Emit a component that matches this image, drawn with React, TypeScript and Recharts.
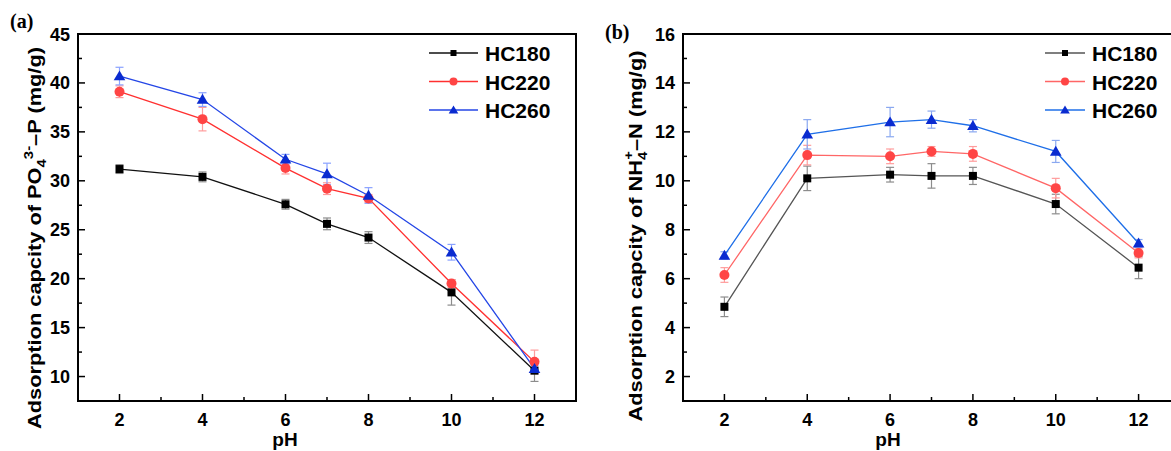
import React from "react";
import { LineChart, Line, XAxis, YAxis, ErrorBar, ReferenceArea } from "recharts";

// pH values shared by both panels
const phValues = [2, 4, 6, 7, 8, 10, 12];

// (a) PO4 3- -P adsorption (mg/g)
const po4HC180 = [31.2, 30.4, 27.6, 25.6, 24.2, 18.6, 10.6];
const po4HC180Err = [0.45, 0.5, 0.5, 0.6, 0.6, 1.3, 1.1];
const po4HC220 = [39.1, 36.3, 31.3, 29.2, 28.2, 19.5, 11.5];
const po4HC220Err = [0.6, 1.2, 0.6, 0.6, 0.4, 0.4, 1.2];
const po4HC260 = [40.7, 38.3, 32.2, 30.7, 28.5, 22.7, 10.8];
const po4HC260Err = [0.9, 0.7, 0.5, 1.1, 0.8, 0.8, 0.3];

// (b) NH4+ -N adsorption (mg/g)
const nh4HC180 = [4.85, 10.1, 10.25, 10.2, 10.2, 9.05, 6.45];
const nh4HC180Err = [0.4, 0.5, 0.3, 0.5, 0.35, 0.4, 0.45];
const nh4HC220 = [6.15, 11.05, 11.0, 11.2, 11.1, 9.7, 7.05];
const nh4HC220Err = [0.3, 0.4, 0.3, 0.2, 0.3, 0.4, 0.2];
const nh4HC260 = [6.95, 11.9, 12.4, 12.5, 12.25, 11.2, 7.45];
const nh4HC260Err = [0.15, 0.6, 0.6, 0.35, 0.25, 0.45, 0.15];

const seriesNames = ["HC180", "HC220", "HC260"];

const xTicks = [2, 3, 4, 5, 6, 7, 8, 9, 10, 11, 12];
const leftYTicks = [10, 12.5, 15, 17.5, 20, 22.5, 25, 27.5, 30, 32.5, 35, 37.5, 40, 42.5, 45];
const rightYTicks = [2, 3, 4, 5, 6, 7, 8, 9, 10, 11, 12, 13, 14, 15, 16];

const buildRows = (a: number[], ae: number[], b: number[], be: number[], c: number[], ce: number[]) =>
  phValues.map((ph, i) => ({ ph, s1: a[i], e1: ae[i], s2: b[i], e2: be[i], s3: c[i], e3: ce[i] }));

const po4Rows = buildRows(po4HC180, po4HC180Err, po4HC220, po4HC220Err, po4HC260, po4HC260Err);
const nh4Rows = buildRows(nh4HC180, nh4HC180Err, nh4HC220, nh4HC220Err, nh4HC260, nh4HC260Err);

const FONT = "'Liberation Sans', Arial, sans-serif";
const SERIF = "'Liberation Serif', 'Times New Roman', serif";

type Shape = "square" | "circle" | "triangle";

const Marker = ({ cx, cy, shape, fill, size }: { cx: number; cy: number; shape: Shape; fill: string; size: number }) => {
  if (shape === "square") {
    return <rect x={cx - size / 2} y={cy - size / 2} width={size} height={size} fill={fill} />;
  }
  if (shape === "circle") {
    return <circle cx={cx} cy={cy} r={size / 2 + 0.5} fill={fill} />;
  }
  const h = size * 0.95;
  return (
    <polygon
      points={`${cx},${cy - h * 0.6} ${cx - size / 2 - 0.8},${cy + h * 0.45} ${cx + size / 2 + 0.8},${cy + h * 0.45}`}
      fill={fill}
    />
  );
};

const makeDot = (shape: Shape, fill: string, size: number) => (p: any) => {
  if (p.cx == null || p.cy == null) return <g key={p.index} />;
  return <Marker key={p.index} cx={p.cx} cy={p.cy} shape={shape} fill={fill} size={size} />;
};

// ticks point inward, labels only on major ones
const makeXTick = () => (props: any) => {
  const { x, y, payload } = props;
  const v = payload.value;
  const major = v % 2 === 0;
  return (
    <g>
      <line x1={x} x2={x} y1={y} y2={y - (major ? 7 : 4)} stroke="#000" strokeWidth={1.5} />
      {major && (
        <text x={x} y={y + 25} textAnchor="middle" fontFamily={FONT} fontWeight="bold" fontSize={18} fill="#000">
          {v}
        </text>
      )}
    </g>
  );
};

const makeYTick = (majorStep: number) => (props: any) => {
  const { x, y, payload } = props;
  const v = payload.value;
  const major = Math.abs(v / majorStep - Math.round(v / majorStep)) < 1e-6;
  return (
    <g>
      <line x1={x} x2={x + (major ? 7 : 4)} y1={y} y2={y} stroke="#000" strokeWidth={1.5} />
      {major && (
        <text x={x - 8} y={y + 6.5} textAnchor="end" fontFamily={FONT} fontWeight="bold" fontSize={18} fill="#000">
          {v}
        </text>
      )}
    </g>
  );
};

interface Palette {
  line: string[];
  marker: string[];
  err: string[];
}

const leftPalette: Palette = {
  line: ["#111111", "#ff3030", "#2446e6"],
  marker: ["#000000", "#ff4545", "#0a2bd0"],
  err: ["#8c8c8c", "#ff9c9c", "#8aa2ff"],
};

const rightPalette: Palette = {
  line: ["#555555", "#ff6666", "#1f6fe8"],
  marker: ["#000000", "#ff4545", "#0a2bd0"],
  err: ["#8c8c8c", "#ff9c9c", "#8aa8f0"],
};

const shapes: Shape[] = ["square", "circle", "triangle"];
const dotSizes = [8, 9, 10];

interface PanelProps {
  rows: any[];
  yDomain: [number, number];
  yTicks: number[];
  majorStep: number;
  width: number;
  yAxisWidth: number;
  rightMargin: number;
  palette: Palette;
}

const Panel = ({ rows, yDomain, yTicks, majorStep, width, yAxisWidth, rightMargin, palette }: PanelProps) => (
  <LineChart width={width} height={451} data={rows} margin={{ top: 34, right: rightMargin, bottom: 0, left: 0 }}>
    <XAxis
      dataKey="ph"
      type="number"
      domain={[1, 13]}
      ticks={xTicks}
      interval={0}
      height={50}
      axisLine={false}
      tickLine={false}
      tickSize={0}
      tickMargin={0}
      tick={makeXTick()}
    />
    <YAxis
      type="number"
      domain={yDomain}
      ticks={yTicks}
      interval={0}
      width={yAxisWidth}
      axisLine={false}
      tickLine={false}
      tickSize={0}
      tickMargin={0}
      tick={makeYTick(majorStep)}
      allowDataOverflow
    />
    <ReferenceArea
      x1={1}
      x2={13}
      y1={yDomain[0]}
      y2={yDomain[1]}
      fill="none"
      fillOpacity={0}
      stroke="#000"
      strokeWidth={2}
      ifOverflow="visible"
    />
    {[1, 2, 3].map((k) => (
      <Line
        key={k}
        type="linear"
        dataKey={`s${k}`}
        name={seriesNames[k - 1]}
        stroke={palette.line[k - 1]}
        strokeWidth={1.3}
        dot={makeDot(shapes[k - 1], palette.marker[k - 1], dotSizes[k - 1])}
        activeDot={false}
        isAnimationActive={false}
      >
        <ErrorBar dataKey={`e${k}`} direction="y" width={4} stroke={palette.err[k - 1]} strokeWidth={1.2} />
      </Line>
    ))}
  </LineChart>
);

const LegendBlock = ({ x, palette, lineLen }: { x: number; palette: Palette; lineLen: number }) => (
  <g>
    {seriesNames.map((name, i) => {
      const y = 53 + i * 28.5;
      return (
        <g key={name}>
          <line x1={x} x2={x + lineLen} y1={y} y2={y} stroke={palette.line[i]} strokeWidth={1.3} />
          <Marker cx={x + lineLen / 2} cy={y} shape={shapes[i]} fill={palette.marker[i]} size={dotSizes[i] - 2} />
          <text x={x + lineLen + 7} y={y + 8} fontFamily={FONT} fontWeight="bold" fontSize={21} fill="#000">
            {name}
          </text>
        </g>
      );
    })}
  </g>
);

export default function App() {
  return (
    <div style={{ position: "absolute", left: 0, top: 0, width: 1171, height: 451, overflow: "hidden", background: "#fff" }}>
      <div style={{ position: "absolute", left: 0, top: 0 }}>
        <Panel
          rows={po4Rows}
          yDomain={[7.5, 45]}
          yTicks={leftYTicks}
          majorStep={5}
          width={600}
          yAxisWidth={78}
          rightMargin={24}
          palette={leftPalette}
        />
      </div>
      <div style={{ position: "absolute", left: 590, top: 0 }}>
        <Panel
          rows={nh4Rows}
          yDomain={[1, 16]}
          yTicks={rightYTicks}
          majorStep={2}
          width={620}
          yAxisWidth={93}
          rightMargin={30}
          palette={rightPalette}
        />
      </div>
      <svg width={1171} height={451} style={{ position: "absolute", left: 0, top: 0, pointerEvents: "none" }}>
        <text x={10} y={28} fontFamily={SERIF} fontWeight="bold" fontSize={20}>
          (a)
        </text>
        <text x={605} y={39} fontFamily={SERIF} fontWeight="bold" fontSize={20}>
          (b)
        </text>
        <text
          x={41}
          y={238}
          transform="rotate(-90, 41, 238)"
          textAnchor="middle"
          fontFamily={FONT}
          fontWeight="bold"
          fontSize={19}
          textLength={382}
          lengthAdjust="spacingAndGlyphs"
        >
          Adsorption capcity of PO
          <tspan fontSize={13} dy={5}>4</tspan>
          <tspan fontSize={13} dy={-13}>3-</tspan>
          <tspan dy={8}>–P (mg/g)</tspan>
        </text>
        <text
          x={642}
          y={236}
          transform="rotate(-90, 642, 236)"
          textAnchor="middle"
          fontFamily={FONT}
          fontWeight="bold"
          fontSize={19}
          textLength={371}
          lengthAdjust="spacingAndGlyphs"
        >
          Adsorption capcity of NH
          <tspan fontSize={13} dy={5}>4</tspan>
          <tspan fontSize={13} dx={-7} dy={-14}>+</tspan>
          <tspan dy={9}>–N (mg/g)</tspan>
        </text>
        <text x={285} y={446} textAnchor="middle" fontFamily={FONT} fontWeight="bold" fontSize={19}>
          pH
        </text>
        <text x={888} y={446} textAnchor="middle" fontFamily={FONT} fontWeight="bold" fontSize={19}>
          pH
        </text>
        <LegendBlock x={429} palette={leftPalette} lineLen={49} />
        <LegendBlock x={1045} palette={rightPalette} lineLen={40} />
      </svg>
    </div>
  );
}
